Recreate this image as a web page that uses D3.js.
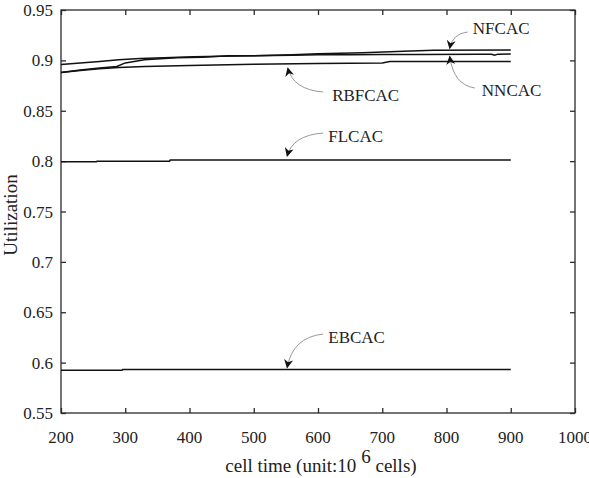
<!DOCTYPE html>
<html><head><meta charset="utf-8">
<script src="https://cdn.jsdelivr.net/npm/d3@7"></script>
</head><body style="margin:0;background:#fff"><svg id="c" width="589" height="478" style="display:block"></svg>
<script>
const xTicks = [200,300,400,500,600,700,800,900,1000];
const yTicks = [0.55,0.6,0.65,0.7,0.75,0.8,0.85,0.9,0.95];
const yTickLabels = ["0.55","0.6","0.65","0.7","0.75","0.8","0.85","0.9","0.95"];

const nncacX = [200,230,260,290,323,360,406,450,500,560,600,650,700,760,850,870,875,880,900];
const nncacY = [0.8960,0.8975,0.8990,0.9005,0.9018,0.9025,0.9036,0.9040,0.9045,0.9052,0.9055,0.9057,0.9058,0.9058,0.9060,0.9060,0.9052,0.9062,0.9063];
const nfcacX = [200,230,260,287,300,330,380,420,460,500,560,600,670,733,780,900];
const nfcacY = [0.8880,0.8905,0.8925,0.8940,0.8975,0.9005,0.9025,0.9030,0.9045,0.9045,0.9055,0.9065,0.9075,0.9090,0.9100,0.9103];
const rbfcacX = [200,230,260,290,330,400,500,598,700,712,900];
const rbfcacY = [0.8880,0.8900,0.8918,0.8930,0.8940,0.8950,0.8962,0.8970,0.8975,0.8988,0.8990];
const flcacX = [200,255,256,369,370,900];
const flcacY = [0.7994,0.7994,0.8000,0.8000,0.8010,0.8010];
const ebcacX = [200,295,296,900];
const ebcacY = [0.5924,0.5924,0.5931,0.5931];

const seriesNames = ["NFCAC","NNCAC","RBFCAC","FLCAC","EBCAC"];
// annotation anchors in data coordinates (cell time, utilization)
const labelPos = [[841,0.9262],[855,0.8646],[622,0.8597],[616,0.8190],[616,0.6195]];
const arrowStart = [[833,0.9282],[844,0.8726],[608,0.8686],[608,0.8279],[608,0.6284]];
const arrowTip = [[805,0.9118],[805,0.9040],[553,0.8924],[552,0.8050],[552,0.5950]];

const FONT = '"Liberation Serif"';
const svg = d3.select("#c");
const L=61, R=575, T=10, B=413;
const x = d3.scaleLinear().domain([200,1000]).range([L,R]);
const y = d3.scaleLinear().domain([0.55,0.95]).range([B,T]);

const ink="#2a2a2a";
svg.append("rect").attr("x",L).attr("y",T).attr("width",R-L).attr("height",B-T)
  .attr("fill","none").attr("stroke",ink).attr("stroke-width",1.3);

const tl=5;
const ax = (g)=>g.selectAll(".domain").remove();
[[d3.axisTop(x),`translate(0,${B})`,xTicks],[d3.axisBottom(x),`translate(0,${T})`,xTicks],
 [d3.axisRight(y),`translate(${L},0)`,yTicks],[d3.axisLeft(y),`translate(${R},0)`,yTicks]].forEach(([a,tr,tv])=>{
  svg.append("g").attr("transform",tr)
    .call(a.tickValues(tv).tickSize(tl).tickFormat(""))
    .call(ax).selectAll("line").attr("stroke",ink).attr("stroke-width",1.3);
});

const txt = (sel)=>sel.style("font-family",FONT).style("font-size","17px").attr("fill","#222");

svg.selectAll(".xl").data(xTicks).enter().append("text")
  .attr("x",d=>x(d)).attr("y",443).attr("text-anchor","middle").call(txt).text(d=>d);
svg.selectAll(".yl").data(yTicks).enter().append("text")
  .attr("x",53).attr("y",d=>y(d)+6).attr("text-anchor","end").call(txt).text((d,i)=>yTickLabels[i]);

const xt = svg.append("text").attr("x",321).attr("y",472).attr("text-anchor","middle").call(txt).style("font-size","19px");
xt.append("tspan").text("cell time (unit:10");
xt.append("tspan").attr("dx",5).attr("dy",-9).text("6");
xt.append("tspan").attr("dy",9).text(" cells)");
svg.append("text").attr("transform","translate(17,215) rotate(-90)").attr("text-anchor","middle")
  .call(txt).style("font-size","19px").text("Utilization");

const line = d3.line().x(d=>x(d[0])).y(d=>y(d[1]));
const allSeries = [[nfcacX,nfcacY],[nncacX,nncacY],[rbfcacX,rbfcacY],[flcacX,flcacY],[ebcacX,ebcacY]];
allSeries.forEach(([xs,ys])=>{
  svg.append("path").datum(xs.map((v,i)=>[v,ys[i]])).attr("d",line)
    .attr("fill","none").attr("stroke","#111").attr("stroke-width",1.5);
});

svg.append("defs").append("marker").attr("id","ah").attr("viewBox","0 0 10 10")
  .attr("refX",9).attr("refY",5).attr("markerWidth",9).attr("markerHeight",9)
  .attr("markerUnits","userSpaceOnUse").attr("orient","auto")
  .append("path").attr("d","M0,0 L10,5 L0,10 L3,5 Z").attr("fill","#111");

seriesNames.forEach((n,i)=>{
  svg.append("text").attr("x",x(labelPos[i][0])).attr("y",y(labelPos[i][1])).call(txt).text(n);
  const s=[x(arrowStart[i][0]),y(arrowStart[i][1])], t=[x(arrowTip[i][0]),y(arrowTip[i][1])];
  const c=[t[0]+(s[0]-t[0])*0.15, s[1]+(t[1]-s[1])*0.1];
  svg.append("path").attr("d",`M${s[0]},${s[1]} Q${c[0]},${c[1]} ${t[0]},${t[1]}`)
    .attr("fill","none").attr("stroke","#999").attr("stroke-width",1)
    .attr("marker-end","url(#ah)");
});
</script></body></html>
